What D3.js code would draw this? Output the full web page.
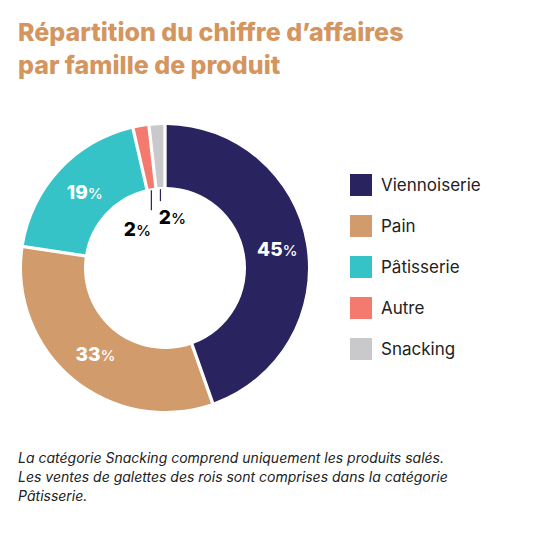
<!DOCTYPE html><html><head><meta charset="utf-8"><script src="https://cdn.jsdelivr.net/npm/d3@7"></script>
<style>body{margin:0;background:#fff;font-family:Inter,"Noto Sans",sans-serif}</style></head><body><svg id="c" width="538" height="543"></svg>
<script>
const categories=["Viennoiserie","Pain","Pâtisserie","Autre","Snacking"];
const values=[45,33,19,1.5,1.5];
const labels=["45","33","19","2","2"];
const colors=["#29235f","#d29b6b","#35c3c8","#f47a6f","#c9c9cc"];
const svg=d3.select("#c");
const t=svg.append("text").attr("x",18).attr("font-weight",800).attr("font-size",25).attr("fill","#d4955f");
t.append("tspan").attr("x",18).attr("y",41).text("Répartition du chiffre d’affaires");
t.append("tspan").attr("x",18).attr("y",74).text("par famille de produit");
const cx=165,cy=268,R=143,r=81;
const pie=d3.pie().sort(null).value(d=>d).padAngle(0.02);
const arcs=pie(values);
const arc=d3.arc().innerRadius(r).outerRadius(R);
const g=svg.append("g").attr("transform",`translate(${cx},${cy})`);
g.selectAll("path").data(arcs).join("path").attr("d",arc).attr("fill",(d,i)=>colors[i]);
function lab(sel,x,y,i,col,size){const tx=sel.append("text").attr("x",x).attr("y",y).attr("text-anchor","middle").attr("fill",col).attr("font-size",size);
tx.append("tspan").attr("font-weight",800).text(labels[i]);tx.append("tspan").attr("font-weight",500).attr("font-size",size*0.8).text("%");}
const mid=d3.arc().innerRadius((r+R)/2).outerRadius((r+R)/2);
[0,1,2].forEach(i=>{const c=mid.centroid(arcs[i]);lab(g,c[0]+2,c[1]+7,i,"#fff",19);});
[3,4].forEach((i,k)=>{const a=(arcs[i].startAngle+arcs[i].endAngle)/2;const x=r*Math.sin(a),y=-r*Math.cos(a);
g.append("line").attr("x1",x).attr("x2",x).attr("y1",y+2).attr("y2",y+(k?14:22)).attr("stroke","#29235f").attr("stroke-width",1.2);
lab(g,k?x+12:x-14,k?y+37:y+48,i,"#000",19);});
const lg=svg.append("g").attr("transform","translate(350,174)");
categories.forEach((c,i)=>{const y=i*41;lg.append("rect").attr("y",y).attr("width",22).attr("height",22).attr("fill",colors[i]);
lg.append("text").attr("x",31).attr("y",y+17).attr("font-size",17).attr("fill","#222").text(c);});
const n=svg.append("text").attr("font-size",14).attr("font-style","italic").attr("fill","#222");
["La catégorie Snacking comprend uniquement les produits salés.","Les ventes de galettes des rois sont comprises dans la catégorie","Pâtisserie."].forEach((s,i)=>n.append("tspan").attr("x",18).attr("y",463+i*19).text(s));
</script></body></html>
